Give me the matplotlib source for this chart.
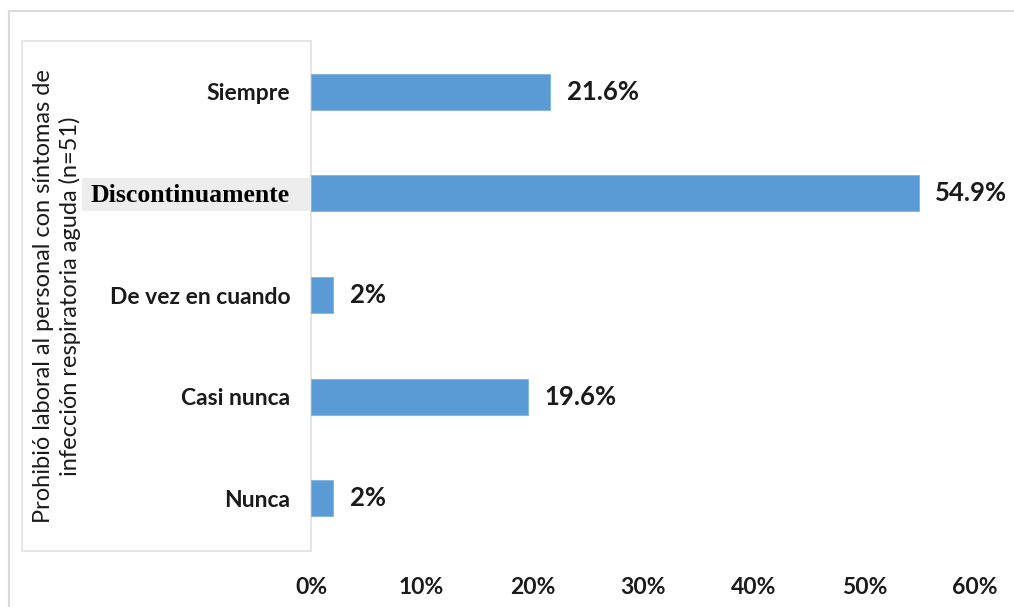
import matplotlib.pyplot as plt
from matplotlib.patches import Rectangle
from matplotlib.lines import Line2D

categories = ['Siempre', 'Discontinuamente', 'De vez en cuando', 'Casi nunca', 'Nunca']
values = [21.6, 54.9, 2.0, 19.6, 2.0]
value_labels = ['21.6%', '54.9%', '2%', '19.6%', '2%']
xticks = [0, 10, 20, 30, 40, 50, 60]
ylabel = 'Prohibió laboral al personal con síntomas de\ninfección respiratoria aguda (n=51)'

plt.rcParams['font.family'] = ['Lato', 'DejaVu Sans']

fig = plt.figure(figsize=(10.14, 6.07), dpi=100)
W, H = 1014, 607

# outer chart frame (top and left edges visible)
fig.add_artist(Line2D([9 / W, 1], [1 - 11 / H, 1 - 11 / H], color='#d9d9d9', lw=1.5, zorder=-3))
fig.add_artist(Line2D([9 / W, 9 / W], [0, 1 - 11 / H], color='#d9d9d9', lw=1.5, zorder=-3))

# label box
fig.add_artist(Rectangle((22 / W, 1 - 551 / H), (311 - 22) / W, (551 - 41) / H,
                         facecolor='white', edgecolor='#e0e0e0', lw=1.2, zorder=-2))
# highlight behind "Discontinuamente"
fig.add_artist(Rectangle((82 / W, 1 - 211 / H), (314 - 82) / W, 33 / H,
                         facecolor='#ededed', edgecolor='none', zorder=-1))

ax = fig.add_axes([311 / W, 1 - 549 / H, (975 - 311) / W, (549 - 41) / H])
ax.patch.set_alpha(0)

pos = list(range(len(categories)))
ax.barh(pos, values, height=0.355, color='#5b9bd5', edgecolor='#7fb2e0', lw=0.6)
ax.set_ylim(len(categories) - 0.5, -0.5)
ax.set_xlim(0, 60)

for p, v, lab in zip(pos, values, value_labels):
    ax.annotate(lab, (v, p), xytext=(12, 0), textcoords='offset points',
                ha='left', va='center', fontsize=18.5, fontweight='bold', color='#1a1a1a')

ax.set_yticks(pos)
ax.set_yticklabels(categories, fontsize=16.5, fontweight='bold', color='#1a1a1a')
for t in ax.get_yticklabels():
    if t.get_text() == 'Discontinuamente':
        t.set_fontfamily('Liberation Serif')
        t.set_fontsize(18.5)
        t.set_color('black')
ax.set_xticks(xticks)
ax.set_xticklabels([f'{x}%' for x in xticks], fontsize=16.5, fontweight='bold', color='#1a1a1a')
ax.tick_params(axis='y', length=0, pad=15)
ax.tick_params(axis='x', length=0, pad=20)
for s in ax.spines.values():
    s.set_visible(False)

fig.text(57 / W, 1 - 296 / H, ylabel, rotation=90, ha='center', va='center',
         fontsize=17, color='#1a1a1a', linespacing=1.3, multialignment='center')

fig.savefig('out.png', dpi=100)
